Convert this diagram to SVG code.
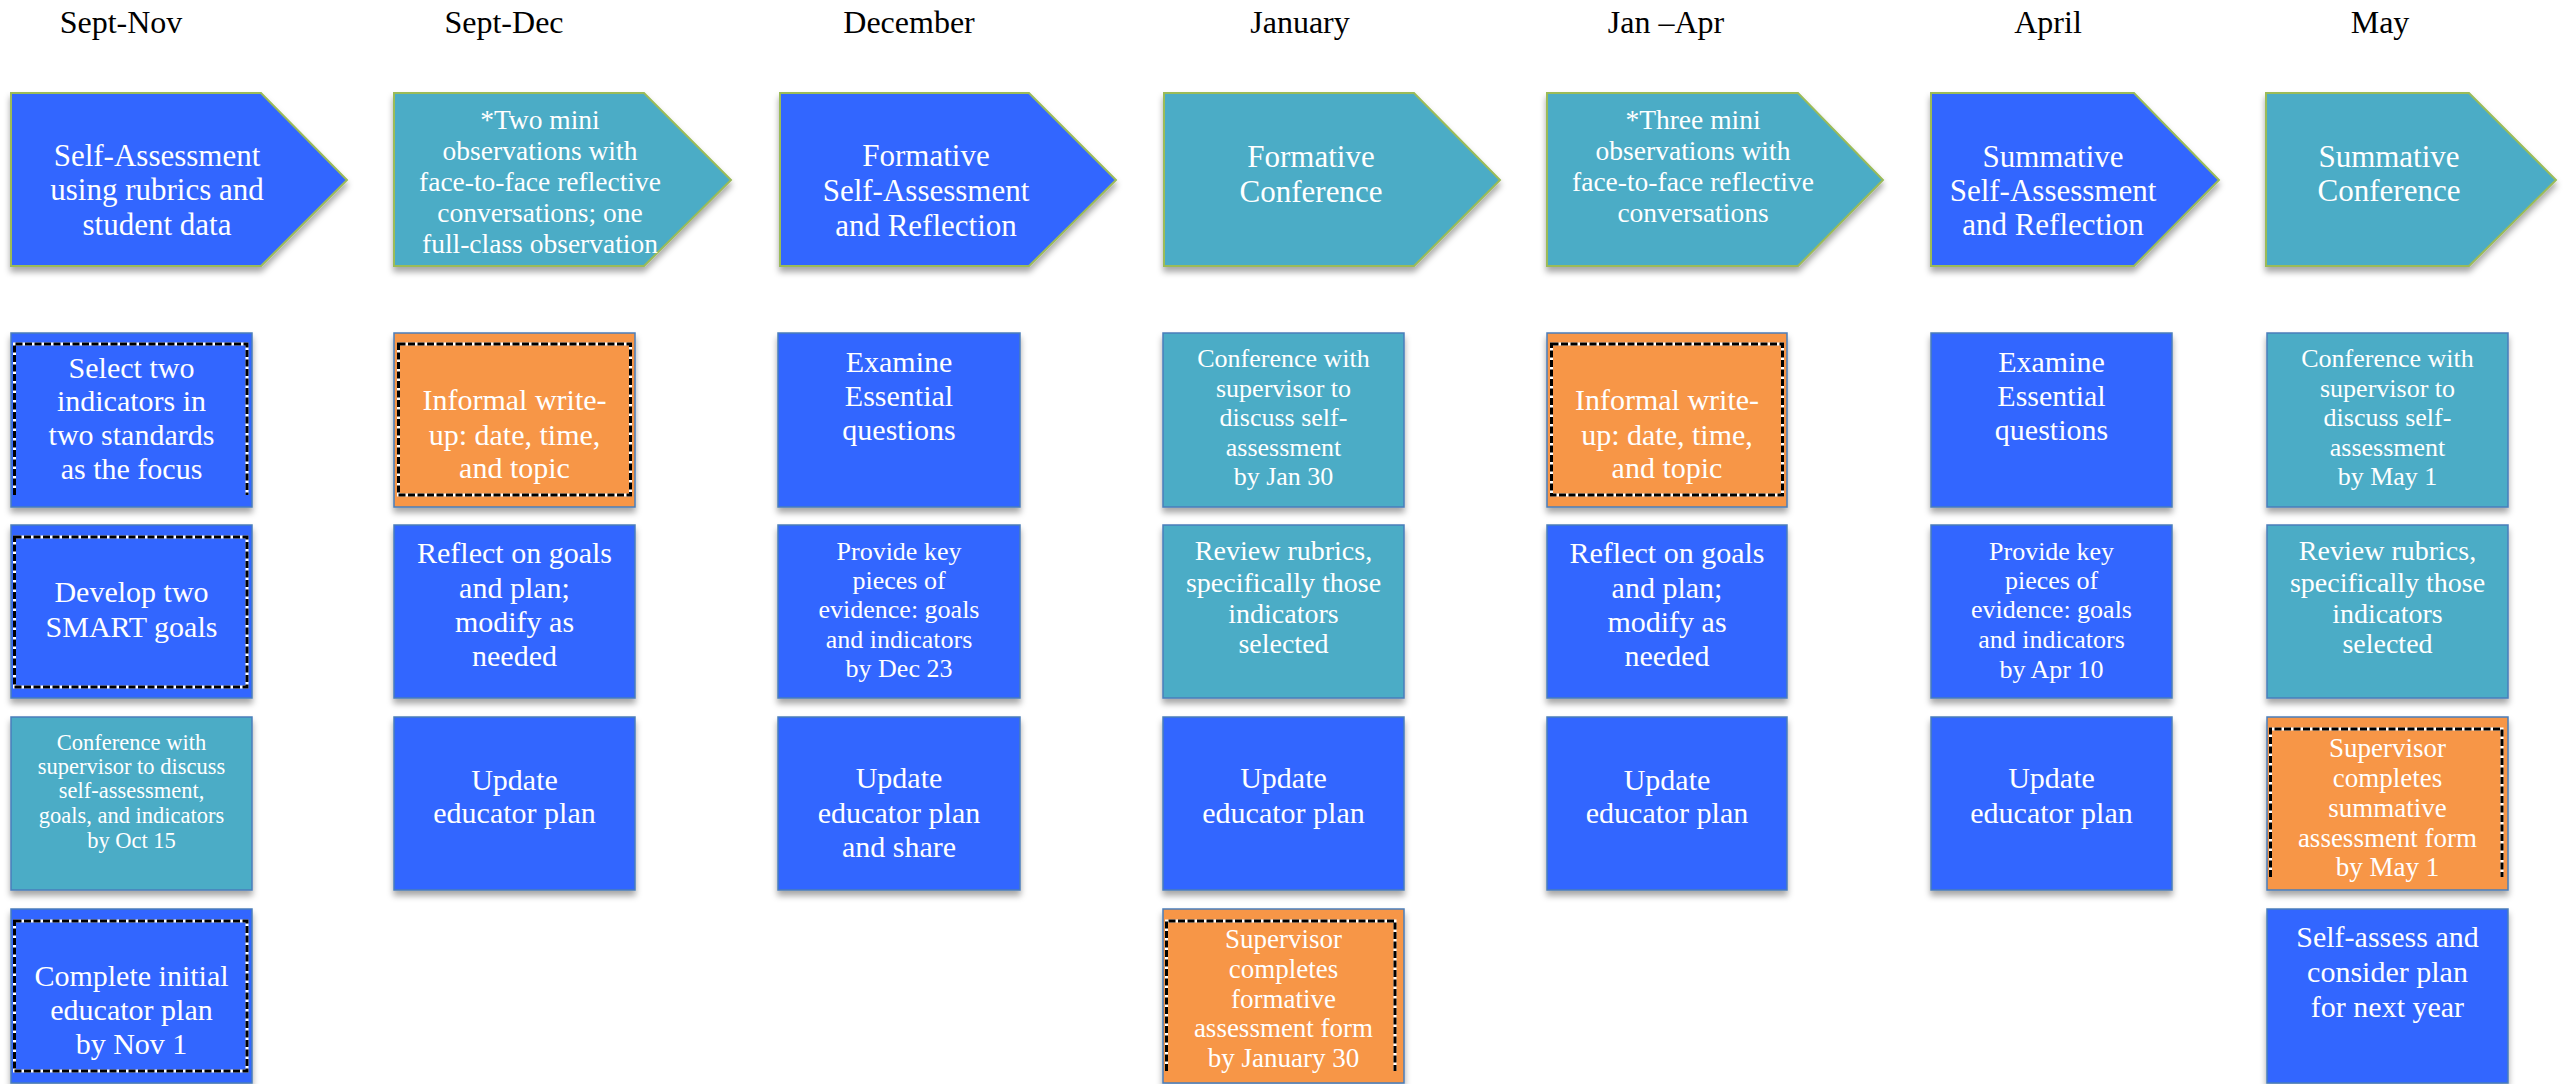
<svg xmlns="http://www.w3.org/2000/svg" width="2572" height="1084" viewBox="0 0 2572 1084">
<defs>
<filter id="sh" x="-10%" y="-10%" width="120%" height="135%">
<feDropShadow dx="0" dy="5" stdDeviation="3" flood-color="#000" flood-opacity="0.35"/>
</filter>
</defs>
<style>
.blue{fill:#3366FF;stroke:#4A7EBB;stroke-width:1.5}
.teal{fill:#4BACC6;stroke:#4A7EBB;stroke-width:1.5}
.orange{fill:#F79646;stroke:#4A7EBB;stroke-width:1.5}
.chb{fill:#3366FF;stroke:#9BBB59;stroke-width:2}
.cht{fill:#4BACC6;stroke:#9BBB59;stroke-width:2}
.shd{filter:url(#sh)}
.dw{fill:none;stroke:#fff;stroke-width:3}
.dk{fill:none;stroke:#000;stroke-width:3;stroke-dasharray:7 2.5}
.h{font-family:'Liberation Serif',serif;font-size:32px;fill:#000;text-anchor:middle}
.t{font-family:'Liberation Serif',serif;fill:#fff;text-anchor:middle}
</style>
<rect width="2572" height="1084" fill="#fff"/>

<g id="headers">
<text class="h" x="121" y="33">Sept-Nov</text>
<text class="h" x="504" y="33">Sept-Dec</text>
<text class="h" x="909" y="33">December</text>
<text class="h" x="1300" y="33">January</text>
<text class="h" x="1666" y="33">Jan –Apr</text>
<text class="h" x="2048" y="33">April</text>
<text class="h" x="2380" y="33">May</text>
</g>

<g id="connectors"></g>

<!-- Chevrons -->
<g id="chev1">
<polygon class="chb shd" points="11,93 261,93 347,180 261,266 11,266"/>
<text class="t" font-size="31"><tspan x="157" y="166">Self-Assessment</tspan><tspan x="157" y="200">using rubrics and</tspan><tspan x="157" y="235">student data</tspan></text>
</g>
<g id="chev2">
<polygon class="cht shd" points="394,93 644,93 731,180 644,266 394,266"/>
<text class="t" font-size="27.5"><tspan x="540" y="129">*Two mini</tspan><tspan x="540" y="160">observations with</tspan><tspan x="540" y="191">face-to-face reflective</tspan><tspan x="540" y="222">conversations; one</tspan><tspan x="540" y="253">full-class observation</tspan></text>
</g>
<g id="chev3">
<polygon class="chb shd" points="780,93 1029,93 1116,180 1029,266 780,266"/>
<text class="t" font-size="31"><tspan x="926" y="166">Formative</tspan><tspan x="926" y="201">Self-Assessment</tspan><tspan x="926" y="236">and Reflection</tspan></text>
</g>
<g id="chev4">
<polygon class="cht shd" points="1164,93 1414,93 1500,180 1414,266 1164,266"/>
<text class="t" font-size="31"><tspan x="1311" y="167">Formative</tspan><tspan x="1311" y="202">Conference</tspan></text>
</g>
<g id="chev5">
<polygon class="cht shd" points="1547,93 1798,93 1883,180 1798,266 1547,266"/>
<text class="t" font-size="27.5"><tspan x="1693" y="129">*Three mini</tspan><tspan x="1693" y="160">observations with</tspan><tspan x="1693" y="191">face-to-face reflective</tspan><tspan x="1693" y="222">conversations</tspan></text>
</g>
<g id="chev6">
<polygon class="chb shd" points="1931,93 2134,93 2219,180 2134,266 1931,266"/>
<text class="t" font-size="31"><tspan x="2053" y="167">Summative</tspan><tspan x="2053" y="201">Self-Assessment</tspan><tspan x="2053" y="235">and Reflection</tspan></text>
</g>
<g id="chev7">
<polygon class="cht shd" points="2266,93 2469,93 2556,180 2469,266 2266,266"/>
<text class="t" font-size="31"><tspan x="2389" y="167">Summative</tspan><tspan x="2389" y="201">Conference</tspan></text>
</g>

<!-- Column 1 -->
<g id="c1r1">
<rect class="blue shd" x="11" y="333" width="241" height="174"/>
<path class="dw" d="M14.5,495 V344 H247 V495"/><path class="dk" d="M14.5,495 V344 H247 V495"/>
<text class="t" font-size="30"><tspan x="131.5" y="378">Select two</tspan><tspan x="131.5" y="411">indicators in</tspan><tspan x="131.5" y="445">two standards</tspan><tspan x="131.5" y="479">as the focus</tspan></text>
</g>
<g id="c1r2">
<rect class="blue shd" x="11" y="525" width="241" height="173"/>
<rect class="dw" x="14.5" y="537" width="232.5" height="150"/><rect class="dk" x="14.5" y="537" width="232.5" height="150"/>
<text class="t" font-size="30"><tspan x="131.5" y="602">Develop two</tspan><tspan x="131.5" y="637">SMART goals</tspan></text>
</g>
<g id="c1r3">
<rect class="teal shd" x="11" y="717" width="241" height="173"/>
<text class="t" font-size="22.5"><tspan x="131.5" y="750">Conference with</tspan><tspan x="131.5" y="774">supervisor to discuss</tspan><tspan x="131.5" y="798">self-assessment,</tspan><tspan x="131.5" y="823">goals, and indicators</tspan><tspan x="131.5" y="848">by Oct 15</tspan></text>
</g>
<g id="c1r4">
<rect class="blue shd" x="11" y="909" width="241" height="174"/>
<rect class="dw" x="14.5" y="921" width="232.5" height="150"/><rect class="dk" x="14.5" y="921" width="232.5" height="150"/>
<text class="t" font-size="30"><tspan x="131.5" y="986">Complete initial</tspan><tspan x="131.5" y="1020">educator plan</tspan><tspan x="131.5" y="1054">by Nov 1</tspan></text>
</g>

<!-- Column 2 -->
<g id="c2r1">
<rect class="orange shd" x="394" y="333" width="241" height="174"/>
<rect class="dw" x="398.5" y="344" width="232" height="151"/><rect class="dk" x="398.5" y="344" width="232" height="151"/>
<text class="t" font-size="30"><tspan x="514.5" y="410">Informal write-</tspan><tspan x="514.5" y="445">up: date, time,</tspan><tspan x="514.5" y="478">and topic</tspan></text>
</g>
<g id="c2r2">
<rect class="blue shd" x="394" y="525" width="241" height="173"/>
<text class="t" font-size="30"><tspan x="514.5" y="563">Reflect on goals</tspan><tspan x="514.5" y="598">and plan;</tspan><tspan x="514.5" y="632">modify as</tspan><tspan x="514.5" y="666">needed</tspan></text>
</g>
<g id="c2r3">
<rect class="blue shd" x="394" y="717" width="241" height="173"/>
<text class="t" font-size="30"><tspan x="514.5" y="790">Update</tspan><tspan x="514.5" y="823">educator plan</tspan></text>
</g>

<!-- Column 3 -->
<g id="c3r1">
<rect class="blue shd" x="778" y="333" width="242" height="174"/>
<text class="t" font-size="30"><tspan x="899" y="372">Examine</tspan><tspan x="899" y="406">Essential</tspan><tspan x="899" y="440">questions</tspan></text>
</g>
<g id="c3r2">
<rect class="blue shd" x="778" y="525" width="242" height="173"/>
<text class="t" font-size="26"><tspan x="899" y="560">Provide key</tspan><tspan x="899" y="589">pieces of</tspan><tspan x="899" y="618">evidence: goals</tspan><tspan x="899" y="648">and indicators</tspan><tspan x="899" y="677">by Dec 23</tspan></text>
</g>
<g id="c3r3">
<rect class="blue shd" x="778" y="717" width="242" height="173"/>
<text class="t" font-size="30"><tspan x="899" y="788">Update</tspan><tspan x="899" y="823">educator plan</tspan><tspan x="899" y="857">and share</tspan></text>
</g>

<!-- Column 4 -->
<g id="c4r1">
<rect class="teal shd" x="1163" y="333" width="241" height="174"/>
<text class="t" font-size="26"><tspan x="1283.5" y="367">Conference with</tspan><tspan x="1283.5" y="397">supervisor to</tspan><tspan x="1283.5" y="426">discuss self-</tspan><tspan x="1283.5" y="456">assessment</tspan><tspan x="1283.5" y="485">by Jan 30</tspan></text>
</g>
<g id="c4r2">
<rect class="teal shd" x="1163" y="525" width="241" height="173"/>
<text class="t" font-size="28"><tspan x="1283.5" y="560">Review rubrics,</tspan><tspan x="1283.5" y="592">specifically those</tspan><tspan x="1283.5" y="623">indicators</tspan><tspan x="1283.5" y="653">selected</tspan></text>
</g>
<g id="c4r3">
<rect class="blue shd" x="1163" y="717" width="241" height="173"/>
<text class="t" font-size="30"><tspan x="1283.5" y="788">Update</tspan><tspan x="1283.5" y="823">educator plan</tspan></text>
</g>
<g id="c4r4">
<rect class="orange shd" x="1163" y="909" width="241" height="174"/>
<path class="dw" d="M1166.5,1071 V921 H1395 V1071"/><path class="dk" d="M1166.5,1071 V921 H1395 V1071"/>
<text class="t" font-size="27"><tspan x="1283.5" y="948">Supervisor</tspan><tspan x="1283.5" y="978">completes</tspan><tspan x="1283.5" y="1008">formative</tspan><tspan x="1283.5" y="1037">assessment form</tspan><tspan x="1283.5" y="1067">by January 30</tspan></text>
</g>

<!-- Column 5 -->
<g id="c5r1">
<rect class="orange shd" x="1547" y="333" width="240" height="174"/>
<rect class="dw" x="1551.5" y="344" width="231" height="151"/><rect class="dk" x="1551.5" y="344" width="231" height="151"/>
<text class="t" font-size="30"><tspan x="1667" y="410">Informal write-</tspan><tspan x="1667" y="445">up: date, time,</tspan><tspan x="1667" y="478">and topic</tspan></text>
</g>
<g id="c5r2">
<rect class="blue shd" x="1547" y="525" width="240" height="173"/>
<text class="t" font-size="30"><tspan x="1667" y="563">Reflect on goals</tspan><tspan x="1667" y="598">and plan;</tspan><tspan x="1667" y="632">modify as</tspan><tspan x="1667" y="666">needed</tspan></text>
</g>
<g id="c5r3">
<rect class="blue shd" x="1547" y="717" width="240" height="173"/>
<text class="t" font-size="30"><tspan x="1667" y="790">Update</tspan><tspan x="1667" y="823">educator plan</tspan></text>
</g>

<!-- Column 6 -->
<g id="c6r1">
<rect class="blue shd" x="1931" y="333" width="241" height="174"/>
<text class="t" font-size="30"><tspan x="2051.5" y="372">Examine</tspan><tspan x="2051.5" y="406">Essential</tspan><tspan x="2051.5" y="440">questions</tspan></text>
</g>
<g id="c6r2">
<rect class="blue shd" x="1931" y="525" width="241" height="173"/>
<text class="t" font-size="26"><tspan x="2051.5" y="560">Provide key</tspan><tspan x="2051.5" y="589">pieces of</tspan><tspan x="2051.5" y="618">evidence: goals</tspan><tspan x="2051.5" y="648">and indicators</tspan><tspan x="2051.5" y="678">by Apr 10</tspan></text>
</g>
<g id="c6r3">
<rect class="blue shd" x="1931" y="717" width="241" height="173"/>
<text class="t" font-size="30"><tspan x="2051.5" y="788">Update</tspan><tspan x="2051.5" y="823">educator plan</tspan></text>
</g>

<!-- Column 7 -->
<g id="c7r1">
<rect class="teal shd" x="2267" y="333" width="241" height="174"/>
<text class="t" font-size="26"><tspan x="2387.5" y="367">Conference with</tspan><tspan x="2387.5" y="397">supervisor to</tspan><tspan x="2387.5" y="426">discuss self-</tspan><tspan x="2387.5" y="456">assessment</tspan><tspan x="2387.5" y="485">by May 1</tspan></text>
</g>
<g id="c7r2">
<rect class="teal shd" x="2267" y="525" width="241" height="173"/>
<text class="t" font-size="28"><tspan x="2387.5" y="560">Review rubrics,</tspan><tspan x="2387.5" y="592">specifically those</tspan><tspan x="2387.5" y="623">indicators</tspan><tspan x="2387.5" y="653">selected</tspan></text>
</g>
<g id="c7r3">
<rect class="orange shd" x="2267" y="717" width="241" height="173"/>
<path class="dw" d="M2270.5,877 V729 H2502 V877"/><path class="dk" d="M2270.5,877 V729 H2502 V877"/>
<text class="t" font-size="27"><tspan x="2387.5" y="757">Supervisor</tspan><tspan x="2387.5" y="787">completes</tspan><tspan x="2387.5" y="817">summative</tspan><tspan x="2387.5" y="847">assessment form</tspan><tspan x="2387.5" y="876">by May 1</tspan></text>
</g>
<g id="c7r4">
<rect class="blue shd" x="2267" y="909" width="241" height="174"/>
<text class="t" font-size="30"><tspan x="2387.5" y="947">Self-assess and</tspan><tspan x="2387.5" y="982">consider plan</tspan><tspan x="2387.5" y="1017">for next year</tspan></text>
</g>
</svg>
